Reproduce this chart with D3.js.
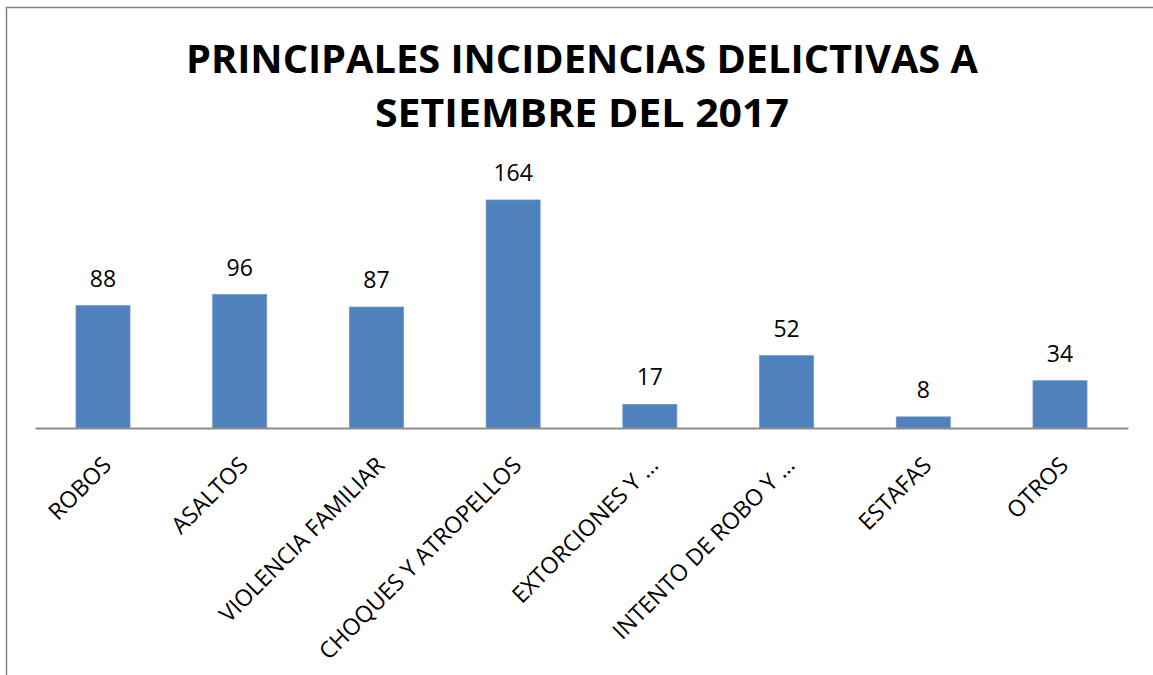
<!DOCTYPE html>
<html>
<head>
<meta charset="utf-8">
<script src="https://cdn.jsdelivr.net/npm/d3@7"></script>
<style>
  body { margin: 0; background: #fff; }
  svg { display: block; font-family: "Open Sans", "DejaVu Sans", sans-serif; }
</style>
</head>
<body>
<svg width="1153" height="675"></svg>
<script>
var width = 1153, height = 675

var titleLines = ['PRINCIPALES INCIDENCIAS DELICTIVAS A', 'SETIEMBRE DEL 2017']
var categories = ['ROBOS', 'ASALTOS', 'VIOLENCIA FAMILIAR', 'CHOQUES Y ATROPELLOS',
  'EXTORCIONES Y …', 'INTENTO DE ROBO Y …', 'ESTAFAS', 'OTROS']
var values = [88, 96, 87, 164, 17, 52, 8, 34]

var svg = d3.select('svg')

// chart frame (only left and top edges are visible)
svg.append('rect')
  .attr('x', 6.5).attr('y', 7.5)
  .attr('width', 1300).attr('height', 1000)
  .attr('fill', 'none')
  .attr('stroke', '#868686')
  .attr('stroke-width', 1.5)

// title
var titleWidths = [792, 414]
svg.selectAll('text.title')
  .data(titleLines)
  .enter().append('text')
  .attr('class', 'title')
  .attr('x', 582)
  .attr('y', (d, i) => 73 + i * 54)
  .attr('text-anchor', 'middle')
  .attr('font-size', 40)
  .attr('font-weight', 'bold')
  .attr('textLength', (d, i) => titleWidths[i])
  .attr('lengthAdjust', 'spacingAndGlyphs')
  .text(d => d)

var x = d3.scaleBand()
  .domain(categories)
  .range([35, 1128])
  .paddingInner(0.605)
  .paddingOuter(0.3)

var y = d3.scaleLinear()
  .domain([0, 164])
  .range([428, 200])

svg.selectAll('rect.bar')
  .data(values)
  .enter().append('rect')
  .attr('class', 'bar')
  .attr('x', (d, i) => x(categories[i]))
  .attr('y', d => y(d))
  .attr('width', x.bandwidth())
  .attr('height', d => y(0) - y(d))
  .attr('fill', '#4f81bd')
  .attr('stroke', '#6a95c8')
  .attr('stroke-width', 0.8)

// value labels
svg.selectAll('text.val')
  .data(values)
  .enter().append('text')
  .attr('class', 'val')
  .attr('x', (d, i) => x(categories[i]) + x.bandwidth() / 2)
  .attr('y', d => y(d) - 19)
  .attr('text-anchor', 'middle')
  .attr('font-size', 23)
  .attr('fill', '#000')
  .text(d => d)

// x axis
var xAxis = svg.append('g')
  .attr('transform', 'translate(0,428)')
  .call(d3.axisBottom(x).tickSize(0).tickFormat(''))
xAxis.select('.domain').attr('stroke', '#8c8c8c').attr('stroke-width', 2)

svg.selectAll('text.cat')
  .data(categories)
  .enter().append('text')
  .attr('class', 'cat')
  .attr('transform', d => 'translate(' + (x(d) + x.bandwidth() / 2 + 4) + ',461) rotate(-45)')
  .attr('text-anchor', 'end')
  .attr('dy', '.35em')
  .attr('font-size', 23)
  .attr('fill', '#000')
  .text(d => d)
</script>
</body>
</html>
